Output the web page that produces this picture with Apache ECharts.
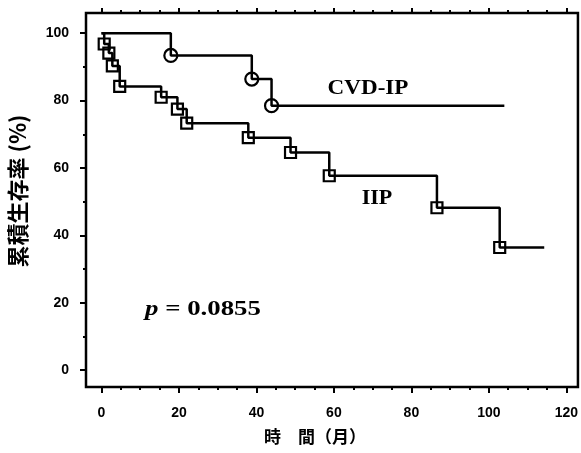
<!DOCTYPE html>
<html>
<head>
<meta charset="utf-8">
<script src="https://cdn.jsdelivr.net/npm/echarts@6/dist/echarts.min.js"></script>
<style>
  html, body { margin: 0; padding: 0; background: #fff; }
  #chart { width: 581px; height: 453px; }
</style>
</head>
<body>
<div id="chart"></div>
<script>
// Kaplan-Meier survival curves (months vs cumulative survival %)
const cvdTime = [0, 17.9, 38.8, 43.9, 104];
const cvdSurv = [100, 93.4, 86.4, 78.5, 78.5];

const iipTime = [0, 0.7, 1.9, 2.8, 4.7, 15.4, 19.6, 22.0, 37.9, 48.8, 58.8, 86.6, 102.8, 114.3];
const iipSurv = [100, 96.8, 94.1, 90.3, 84.2, 81.0, 77.5, 73.3, 69.0, 64.6, 57.7, 48.2, 36.4, 36.4];

const xTickLabels = [0, 20, 40, 60, 80, 100, 120];
const yTickLabels = [0, 20, 40, 60, 80, 100];
const xMinorStep = 5;
const yMinorStep = 10;

const xMinor = [];
for (let v = xTickLabels[0]; v <= xTickLabels[xTickLabels.length - 1]; v += xMinorStep) {
  if (xTickLabels.indexOf(v) < 0) xMinor.push(v);
}
const yMinor = [];
for (let v = yTickLabels[0]; v <= yTickLabels[yTickLabels.length - 1]; v += yMinorStep) {
  if (yTickLabels.indexOf(v) < 0) yMinor.push(v);
}

// first and last points are the curve's start and its censored tail: no marker
function curve(times, surv, symbol) {
  return times.map((t, i) => {
    const item = { value: [t, surv[i]] };
    if (i === 0 || i === times.length - 1) item.symbol = 'none';
    else item.symbol = symbol;
    return item;
  });
}

const X_MIN = -4, X_MAX = 123;
const Y_MIN = -5, Y_MAX = 106;
const labelFont = { fontFamily: 'Liberation Sans', fontWeight: 'bold', fontSize: 14, color: '#000' };

function xAxisDef(position, ticks, len, withLabels) {
  return {
    type: 'value', position: position, min: X_MIN, max: X_MAX,
    axisLine: { show: false, onZero: false },
    splitLine: { show: false },
    axisTick: { show: true, inside: false, customValues: ticks, length: len, lineStyle: { color: '#000', width: 2 } },
    axisLabel: withLabels
      ? Object.assign({ show: true, customValues: ticks, margin: 19 }, labelFont)
      : { show: false }
  };
}
function yAxisDef(position, ticks, len, withLabels) {
  return {
    type: 'value', position: position, min: Y_MIN, max: Y_MAX,
    axisLine: { show: false, onZero: false },
    splitLine: { show: false },
    axisTick: { show: true, inside: false, customValues: ticks, length: len, lineStyle: { color: '#000', width: 2 } },
    axisLabel: withLabels
      ? Object.assign({ show: true, customValues: ticks, margin: 17 }, labelFont)
      : { show: false }
  };
}

const chart = echarts.init(document.getElementById('chart'), null, { renderer: 'canvas' });

const markerStyle = { color: 'rgba(0,0,0,0)', borderColor: '#000', borderWidth: 2.2 };

chart.setOption({
  animation: false,
  backgroundColor: '#fff',
  grid: {
    left: 86, top: 13, width: 492, height: 374,
    show: true, borderColor: '#000', borderWidth: 2.5, backgroundColor: 'transparent'
  },
  xAxis: [
    xAxisDef('bottom', xTickLabels, 6, true),
    xAxisDef('bottom', xMinor, 3, false),
    xAxisDef('top', xTickLabels, 5, false),
    xAxisDef('top', xMinor, 3, false)
  ],
  yAxis: [
    yAxisDef('left', yTickLabels, 6, true),
    yAxisDef('left', yMinor, 3, false)
  ],
  series: [
    {
      name: 'CVD-IP', type: 'line', step: 'end',
      xAxisIndex: 0, yAxisIndex: 0,
      data: curve(cvdTime, cvdSurv, 'circle'),
      symbolSize: 13,
      showAllSymbol: true,
      lineStyle: { color: '#000', width: 2.5 },
      itemStyle: markerStyle,
      emphasis: { disabled: true }
    },
    {
      name: 'IIP', type: 'line', step: 'end',
      xAxisIndex: 0, yAxisIndex: 0,
      data: curve(iipTime, iipSurv, 'rect'),
      symbolSize: 11,
      showAllSymbol: true,
      lineStyle: { color: '#000', width: 2.5 },
      itemStyle: markerStyle,
      emphasis: { disabled: true }
    }
  ],
  graphic: [
    {
      type: 'text', x: 18, y: 191, rotation: Math.PI / 2,
      style: {
        text: '累積生存率 (%)', fill: '#000',
        font: 'bold 22px "Noto Sans CJK JP"',
        textAlign: 'center', textVerticalAlign: 'middle'
      }
    },
    {
      type: 'text', x: 315, y: 437,
      style: {
        text: '時　間（月）', fill: '#000',
        font: 'bold 17px "Noto Sans CJK JP"',
        textAlign: 'center', textVerticalAlign: 'middle'
      }
    },
    {
      type: 'text', x: 368, y: 89, scaleX: 1.1,
      style: {
        text: 'CVD-IP', fill: '#000',
        font: 'bold 21px "Liberation Serif"',
        textAlign: 'center', textVerticalAlign: 'middle'
      }
    },
    {
      type: 'text', x: 377, y: 199, scaleX: 1.05,
      style: {
        text: 'IIP', fill: '#000',
        font: 'bold 21px "Liberation Serif"',
        textAlign: 'center', textVerticalAlign: 'middle'
      }
    },
    {
      type: 'text', x: 145, y: 309, scaleX: 1.22,
      style: {
        text: '{i|p} = 0.0855', fill: '#000',
        font: 'bold 22px "Liberation Serif"',
        textAlign: 'left', textVerticalAlign: 'middle',
        rich: {
          i: { fontStyle: 'italic', fontWeight: 'bold', fontSize: 22, fontFamily: 'Liberation Serif', fill: '#000' }
        }
      }
    }
  ]
});
</script>
</body>
</html>
